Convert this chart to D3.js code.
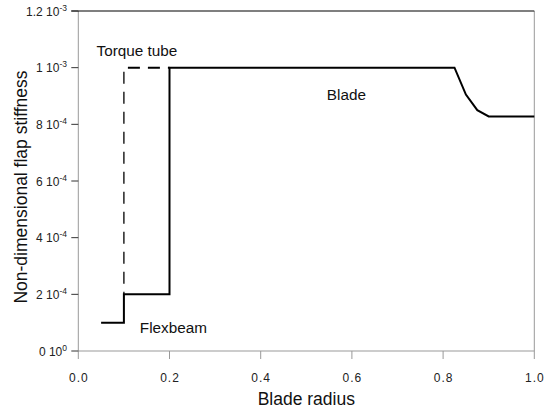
<!DOCTYPE html>
<html>
<head>
<meta charset="utf-8">
<script src="https://cdn.jsdelivr.net/npm/d3@7"></script>
<style>
  html, body { margin: 0; padding: 0; background: #fff; }
  svg { display: block; font-family: "Liberation Sans", Arial, Helvetica, sans-serif; }
</style>
</head>
<body>
<svg id="chart" width="544" height="413"></svg>
<script>
// ---- data ----
const flexR = [0.05, 0.1, 0.1, 0.2, 0.2, 0.825, 0.85, 0.875, 0.9, 1.0];
const flexK = [1e-4, 1e-4, 2e-4, 2e-4, 1e-3, 1e-3, 9.05e-4, 8.5e-4, 8.28e-4, 8.28e-4];
const tubeVertR = [0.1, 0.1];
const tubeVertK = [1e-3, 2e-4];
const tubeHorR = [0.1, 0.2];
const tubeHorK = [1e-3, 1e-3];
const xTicks = [0, 0.2, 0.4, 0.6, 0.8, 1.0];
const xTickLabels = ["0.0", "0.2", "0.4", "0.6", "0.8", "1.0"];
const yTicks = [0, 2e-4, 4e-4, 6e-4, 8e-4, 1e-3, 1.2e-3];
const yTickMant = ["0", "2", "4", "6", "8", "1", "1.2"];
const yTickExp = ["0", "-4", "-4", "-4", "-4", "-3", "-3"];
const annotations = [
  { text: "Torque tube", r: 0.04, k: 1.041e-3 },
  { text: "Blade", r: 0.545, k: 8.86e-4 },
  { text: "Flexbeam", r: 0.135, k: 0.63e-4 }
];

// ---- layout ----
const svg = d3.select("#chart");
const pL = 78.3, pR = 534.3, pT = 11, pB = 351;
const x = d3.scaleLinear().domain([0, 1]).range([pL, pR]);
const y = d3.scaleLinear().domain([0, 1.2e-3]).range([pB, pT]);

// frame
svg.append("line").attr("x1", pL).attr("x2", pL).attr("y1", pT).attr("y2", pB)
  .attr("stroke", "#999").attr("stroke-width", 1);
svg.append("line").attr("x1", pR).attr("x2", pR).attr("y1", pT).attr("y2", pB)
  .attr("stroke", "#999").attr("stroke-width", 1);
svg.append("line").attr("x1", pL).attr("x2", pR).attr("y1", pB).attr("y2", pB)
  .attr("stroke", "#999").attr("stroke-width", 1);
svg.append("line").attr("x1", pL - 7).attr("x2", pR).attr("y1", pT).attr("y2", pT)
  .attr("stroke", "#000").attr("stroke-width", 1.2);

// x axis ticks
const xg = svg.append("g");
xTicks.forEach((t, i) => {
  xg.append("line").attr("x1", x(t)).attr("x2", x(t)).attr("y1", pB).attr("y2", pB + 8)
    .attr("stroke", "#999").attr("stroke-width", 1);
  xg.append("text").attr("x", x(t) + 0.5).attr("y", 382)
    .attr("text-anchor", "middle").attr("font-size", 12).attr("letter-spacing", "1px")
    .attr("fill", "#222").text(xTickLabels[i]);
});

// y axis ticks
const yg = svg.append("g");
yTicks.forEach((t, i) => {
  yg.append("line").attr("x1", pL - 7).attr("x2", pL).attr("y1", y(t)).attr("y2", y(t))
    .attr("stroke", "#333").attr("stroke-width", 1);
  const txt = yg.append("text").attr("x", 67).attr("y", y(t) + 4.5)
    .attr("text-anchor", "end").attr("font-size", 12).attr("fill", "#222");
  txt.append("tspan").text(yTickMant[i] + " 10");
  txt.append("tspan").attr("dy", -5).attr("font-size", 8.5).text(yTickExp[i]);
});

// axis titles
svg.append("text").attr("x", (pL + pR) / 2).attr("y", 405)
  .attr("text-anchor", "middle").attr("font-size", 17.5).attr("fill", "#111").text("Blade radius");
svg.append("text").attr("transform", "translate(26.5," + ((pT + pB) / 2 + 6) + ") rotate(-90)")
  .attr("text-anchor", "middle").attr("font-size", 17.5).attr("fill", "#111")
  .text("Non-dimensional flap stiffness");

// lines
const line = d3.line().x(d => x(d[0])).y(d => y(d[1]));
svg.append("path").datum(d3.zip(tubeVertR, tubeVertK)).attr("d", line)
  .attr("fill", "none").attr("stroke", "#000").attr("stroke-width", 1.3)
  .attr("stroke-dasharray", "12,8").attr("stroke-dashoffset", 16);
svg.append("path").datum(d3.zip(tubeHorR, tubeHorK)).attr("d", line)
  .attr("fill", "none").attr("stroke", "#000").attr("stroke-width", 2)
  .attr("stroke-dasharray", "12,8").attr("stroke-dashoffset", 16);
svg.append("path").datum(d3.zip(flexR, flexK)).attr("d", line)
  .attr("fill", "none").attr("stroke", "#000").attr("stroke-width", 2)
  .attr("stroke-linejoin", "miter");

// annotations
svg.append("g").selectAll("text").data(annotations).join("text")
  .attr("x", d => x(d.r)).attr("y", d => y(d.k))
  .attr("font-size", 15.3).attr("fill", "#111").text(d => d.text);
</script>
</body>
</html>
